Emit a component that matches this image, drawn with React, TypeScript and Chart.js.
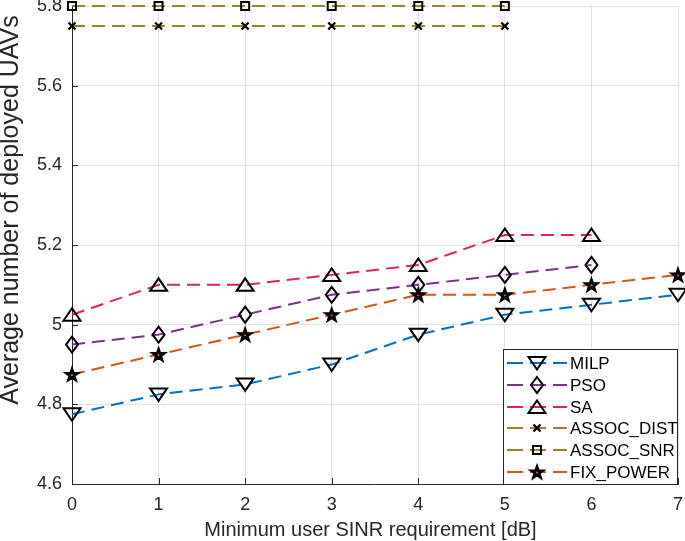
import React, { useEffect, useRef } from 'react';
import { Chart, registerables } from 'chart.js';

Chart.register(...registerables);

const xValues = [0, 1, 2, 3, 4, 5, 6, 7];
const milp = [4.775, 4.825, 4.85, 4.9, 4.975, 5.025, 5.05, 5.075];
const pso = [4.95, 4.975, 5.025, 5.075, 5.1, 5.125, 5.15];
const sa = [5.025, 5.1, 5.1, 5.125, 5.15, 5.225, 5.225];
const assocDist = [5.75, 5.75, 5.75, 5.75, 5.75, 5.75];
const assocSnr = [5.8, 5.8, 5.8, 5.8, 5.8, 5.8];
const fixPower = [4.875, 4.925, 4.975, 5.025, 5.075, 5.075, 5.1, 5.125];
const seriesNames = ['MILP', 'PSO', 'SA', 'ASSOC_DIST', 'ASSOC_SNR', 'FIX_POWER'];
const xTitle = 'Minimum user SINR requirement [dB]';
const yTitle = 'Average number of deployed UAVs';

const FONT = '"Liberation Sans", Arial, Helvetica, sans-serif';
const AXIS_COLOR = '#262626';
const DASH = [13, 7];

const colors = ['#0072BD', '#7E2F8E', '#E0234F', '#A08025', '#A08025', '#D95319'];
const markerKinds = ['down', 'diamond', 'up', 'x', 'square', 'star'];

function drawMarker(g: CanvasRenderingContext2D, kind: string, x: number, y: number) {
  g.save();
  g.strokeStyle = '#000';
  g.fillStyle = '#000';
  g.lineWidth = 2;
  g.lineJoin = 'miter';
  g.setLineDash([]);
  g.beginPath();
  if (kind === 'down') {
    g.moveTo(x - 8.5, y - 6);
    g.lineTo(x + 8.5, y - 6);
    g.lineTo(x, y + 6.5);
    g.closePath();
    g.stroke();
  } else if (kind === 'up') {
    g.moveTo(x - 8.5, y + 6);
    g.lineTo(x + 8.5, y + 6);
    g.lineTo(x, y - 6.5);
    g.closePath();
    g.stroke();
  } else if (kind === 'diamond') {
    g.moveTo(x, y - 8);
    g.lineTo(x + 6, y);
    g.lineTo(x, y + 8);
    g.lineTo(x - 6, y);
    g.closePath();
    g.stroke();
  } else if (kind === 'square') {
    g.rect(x - 4, y - 4, 8, 8);
    g.stroke();
  } else if (kind === 'x') {
    g.lineWidth = 2.2;
    g.moveTo(x - 3.5, y - 3.5);
    g.lineTo(x + 3.5, y + 3.5);
    g.moveTo(x + 3.5, y - 3.5);
    g.lineTo(x - 3.5, y + 3.5);
    g.stroke();
  } else if (kind === 'star') {
    const R = 7.8;
    const r = 3.1;
    for (let i = 0; i < 10; i++) {
      const rad = i % 2 === 0 ? R : r;
      const a = -Math.PI / 2 + (i * Math.PI) / 5;
      const px = x + rad * Math.cos(a);
      const py = y + 0.6 + rad * Math.sin(a);
      if (i === 0) g.moveTo(px, py);
      else g.lineTo(px, py);
    }
    g.closePath();
    g.fill();
    g.lineWidth = 1.4;
    g.stroke();
    g.beginPath();
    g.fillStyle = '#D95319';
    g.arc(x, y + 0.6, 1.1, 0, Math.PI * 2);
    g.fill();
  }
  g.restore();
}

const innerTicks = {
  id: 'innerTicks',
  beforeDatasetsDraw(chart: any) {
    const { ctx, chartArea, scales } = chart;
    ctx.save();
    ctx.strokeStyle = AXIS_COLOR;
    ctx.lineWidth = 1;
    scales.x.ticks.forEach((t: any) => {
      const px = Math.round(scales.x.getPixelForValue(t.value)) + 0.5;
      ctx.beginPath();
      ctx.moveTo(px, chartArea.bottom);
      ctx.lineTo(px, chartArea.bottom - 6);
      ctx.stroke();
    });
    scales.y.ticks.forEach((t: any) => {
      const py = Math.round(scales.y.getPixelForValue(t.value)) + 0.5;
      ctx.beginPath();
      ctx.moveTo(chartArea.left, py);
      ctx.lineTo(chartArea.left + 6, py);
      ctx.stroke();
    });
    ctx.restore();
  },
};

const markerPlugin = {
  id: 'markers',
  afterDatasetDraw(chart: any, args: any) {
    const kind = markerKinds[args.index];
    args.meta.data.forEach((pt: any) => drawMarker(chart.ctx, kind, pt.x, pt.y));
  },
};

const titlesPlugin = {
  id: 'axisTitles',
  afterDraw(chart: any) {
    const { ctx } = chart;
    ctx.save();
    ctx.fillStyle = AXIS_COLOR;
    ctx.textAlign = 'center';
    ctx.textBaseline = 'alphabetic';
    ctx.font = `20px ${FONT}`;
    ctx.fillText(xTitle, 370.5, 536);
    ctx.translate(18, 210);
    ctx.rotate(-Math.PI / 2);
    ctx.font = `25px ${FONT}`;
    ctx.fillText(yTitle, 0, 0);
    ctx.restore();
  },
};

const legendPlugin = {
  id: 'boxLegend',
  afterDraw(chart: any) {
    const { ctx, chartArea } = chart;
    const right = chartArea.right;
    const bottom = chartArea.bottom;
    const left = 503;
    const top = 349;
    ctx.save();
    ctx.fillStyle = '#fff';
    ctx.fillRect(left, top, right - left, bottom - top);
    ctx.strokeStyle = AXIS_COLOR;
    ctx.lineWidth = 1;
    ctx.strokeRect(left + 0.5, top + 0.5, right - left - 1, bottom - top);
    const rowH = 21.8;
    for (let i = 0; i < seriesNames.length; i++) {
      const y = Math.round(top + 14 + i * rowH);
      ctx.strokeStyle = colors[i];
      ctx.lineWidth = 2;
      ctx.setLineDash([16, 7]);
      ctx.beginPath();
      ctx.moveTo(507, y);
      ctx.lineTo(567, y);
      ctx.stroke();
      ctx.setLineDash([]);
      drawMarker(ctx, markerKinds[i], 537, y);
      ctx.fillStyle = '#000';
      ctx.font = `17px ${FONT}`;
      ctx.textBaseline = 'middle';
      ctx.textAlign = 'left';
      ctx.fillText(seriesNames[i], 570, y + 1);
    }
    ctx.restore();
  },
};

export default function App() {
  const ref = useRef<HTMLCanvasElement>(null);
  useEffect(() => {
    const seriesData = [milp, pso, sa, assocDist, assocSnr, fixPower];
    const datasets = seriesData.map((arr, i) => ({
      label: seriesNames[i],
      data: arr.map((v, j) => ({ x: xValues[j], y: v })),
      borderColor: colors[i],
      backgroundColor: colors[i],
      borderWidth: 2,
      borderDash: DASH,
      pointRadius: 0,
      pointHoverRadius: 0,
      tension: 0,
      clip: false as any,
    }));
    const chart = new Chart(ref.current!, {
      type: 'line',
      data: { datasets },
      options: {
        animation: false,
        responsive: false,
        events: [],
        layout: { padding: { left: 0, right: 7, top: 6, bottom: 0 } },
        plugins: { legend: { display: false }, tooltip: { enabled: false } },
        scales: {
          x: {
            type: 'linear',
            min: 0,
            max: 7,
            ticks: {
              stepSize: 1,
              color: AXIS_COLOR,
              font: { family: FONT, size: 18 },
              padding: 10,
              maxRotation: 0,
            },
            grid: { color: '#e3e3e3', drawTicks: false },
            border: { display: true, color: AXIS_COLOR },
            afterFit: (s: any) => {
              s.height = 57;
              s.paddingLeft = 0;
              s.paddingRight = 0;
            },
          },
          y: {
            type: 'linear',
            min: 4.6,
            max: 5.8,
            ticks: {
              stepSize: 0.2,
              color: AXIS_COLOR,
              font: { family: FONT, size: 18 },
              padding: 10,
              callback: (v: any) => String(Number(Number(v).toFixed(1))),
            },
            grid: { color: '#e3e3e3', drawTicks: false },
            border: { display: true, color: AXIS_COLOR },
            afterFit: (s: any) => {
              s.width = 72;
              s.paddingTop = 0;
              s.paddingBottom = 0;
            },
          },
        },
      },
      plugins: [innerTicks, markerPlugin, legendPlugin, titlesPlugin],
    });
    return () => chart.destroy();
  }, []);
  return (
    <div style={{ position: 'fixed', left: 0, top: 0, width: 685, height: 541, background: '#fff' }}>
      <canvas ref={ref} width={685} height={541} style={{ width: 685, height: 541 }} />
    </div>
  );
}
